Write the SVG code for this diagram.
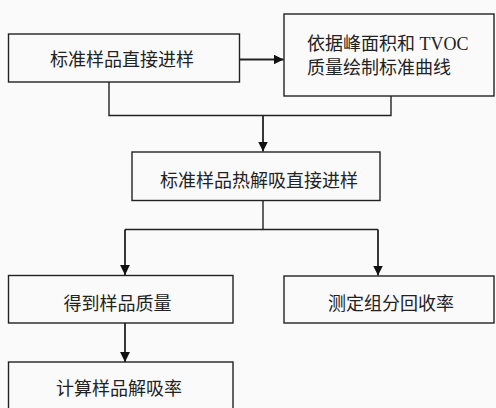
<svg xmlns="http://www.w3.org/2000/svg" width="496" height="408" viewBox="0 0 496 408">
<defs>
<style>
.box{fill:#fafafa;stroke:#222;stroke-width:1.4}
.t{font-family:"Liberation Serif","Noto Sans CJK SC",serif;font-size:18px;fill:#222}
.c{text-anchor:middle}
.ln{fill:none;stroke:#222;stroke-width:1.4}
.ar{fill:none;stroke:#222;stroke-width:1.8;marker-end:url(#ah)}
</style>
<marker id="ah" viewBox="0 0 10 10" refX="10" refY="5" markerWidth="5.5" markerHeight="5.5" markerUnits="strokeWidth" orient="auto">
<path d="M0,0 L10,5 L0,10 Z" fill="#111"/>
</marker>
</defs>
<rect width="496" height="408" fill="#fafafa"/>
<g id="connectors">
<line class="ar" x1="240" y1="59.5" x2="283.5" y2="59.5"/>
<polyline class="ln" points="109,82 109,115.5 391,115.5 391,96"/>
<line class="ar" x1="263" y1="115.5" x2="263" y2="151.5"/>
<line class="ln" x1="263" y1="200.5" x2="263" y2="229.5"/>
<polyline class="ln" points="125,229.5 378,229.5"/>
<line class="ar" x1="125" y1="229.5" x2="125" y2="275"/>
<line class="ar" x1="378" y1="229.5" x2="378" y2="275.5"/>
<line class="ar" x1="125" y1="323" x2="125" y2="362"/>
</g>
<g id="n1"><rect class="box" x="8.5" y="34" width="231" height="48"/>
<text class="t c" x="122" y="66">标准样品直接进样</text></g>
<g id="n2"><rect class="box" x="284" y="14" width="210" height="82"/>
<text class="t" x="307" y="49.5">依据峰面积和 TVOC</text>
<text class="t" x="307" y="73.5">质量绘制标准曲线</text></g>
<g id="n3"><rect class="box" x="132" y="152" width="248" height="48.5"/>
<text class="t c" x="259" y="186.5">标准样品热解吸直接进样</text></g>
<g id="n4"><rect class="box" x="8.5" y="275.5" width="224.5" height="47.5"/>
<text class="t c" x="117.5" y="309.5">得到样品质量</text></g>
<g id="n5"><rect class="box" x="284" y="276" width="210" height="47"/>
<text class="t c" x="391" y="309.5">测定组分回收率</text></g>
<g id="n6"><rect class="box" x="8.5" y="362" width="224.5" height="50"/>
<text class="t c" x="119" y="394.5">计算样品解吸率</text></g>
</svg>
